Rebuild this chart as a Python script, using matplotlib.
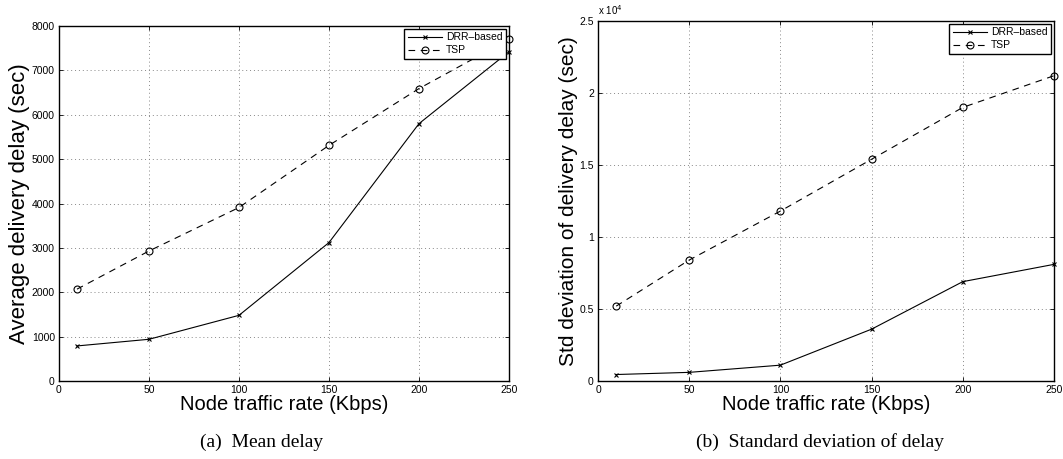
import numpy as np
import matplotlib
matplotlib.use('Agg')
import matplotlib.pyplot as plt
from matplotlib.ticker import FuncFormatter

# data
rate = [10, 50, 100, 150, 200, 250]
mean_drr = [790, 940, 1480, 3120, 5800, 7420]
mean_tsp = [2070, 2930, 3910, 5310, 6590, 7700]
std_drr = [450, 600, 1100, 3600, 6900, 8100]
std_tsp = [5200, 8400, 11800, 15400, 19000, 21200]

plt.rcParams['font.family'] = 'Liberation Sans'

fig = plt.figure(figsize=(10.63, 4.59), dpi=100)
W, H = 1063., 459.
ax1 = fig.add_axes([59/W, 1 - 381/H, (509-59)/W, (381-26)/H])
ax2 = fig.add_axes([598/W, 1 - 381/H, (1054-598)/W, (381-21)/H])


def style(ax):
    ax.grid(True, linestyle=(0, (1, 3)), color='#888888', linewidth=0.7)
    ax.tick_params(direction='in', top=True, right=True, labelsize=7.5,
                   length=3, width=0.6, pad=3)
    for s in ax.spines.values():
        s.set_linewidth(1.0)
    ax.set_xlim(0, 250)
    ax.set_xticks([0, 50, 100, 150, 200, 250])
    ax.set_xlabel('Node traffic rate (Kbps)', fontsize=14.5, labelpad=0)


def draw(ax, drr, tsp):
    ax.plot(rate, drr, color='black', linewidth=0.8, marker='x',
            markersize=3.5, markeredgewidth=0.8, label='DRR\u2013based', clip_on=False)
    ax.plot(rate, tsp, color='black', linewidth=0.8, linestyle=(0, (6, 5)),
            marker='o', markersize=5, fillstyle='none', markeredgewidth=0.8,
            label='TSP', clip_on=False)
    leg = ax.legend(loc='upper right', fontsize=7.5, fancybox=False, framealpha=1,
                    edgecolor='black', borderaxespad=0.3, handlelength=3.3,
                    labelspacing=0.3, borderpad=0.3, handletextpad=0.4)
    leg.get_frame().set_linewidth(1.0)


draw(ax1, mean_drr, mean_tsp)
style(ax1)
ax1.set_ylim(0, 8000)
ax1.set_yticks(np.arange(0, 8001, 1000))
ax1.set_ylabel('Average delivery delay (sec)', fontsize=16, labelpad=1)

draw(ax2, std_drr, std_tsp)
style(ax2)
ax2.set_ylim(0, 25000)
ax2.set_yticks(np.arange(0, 25001, 5000))
ax2.yaxis.set_major_formatter(FuncFormatter(lambda v, p: '%g' % (v / 1e4)))
ax2.set_ylabel('Std deviation of delivery delay (sec)', fontsize=15, labelpad=1)
ax2.text(0.0, 1.012, r'x 10$^4$', transform=ax2.transAxes, fontsize=7,
         ha='left', va='bottom')

fig.text(262/W, 1 - 442/H, '(a)  Mean delay', family='Liberation Serif',
         fontsize=14, ha='center', va='center')
fig.text(820/W, 1 - 442/H, '(b)  Standard deviation of delay',
         family='Liberation Serif', fontsize=14, ha='center', va='center')

fig.savefig('out.png', dpi=100)
